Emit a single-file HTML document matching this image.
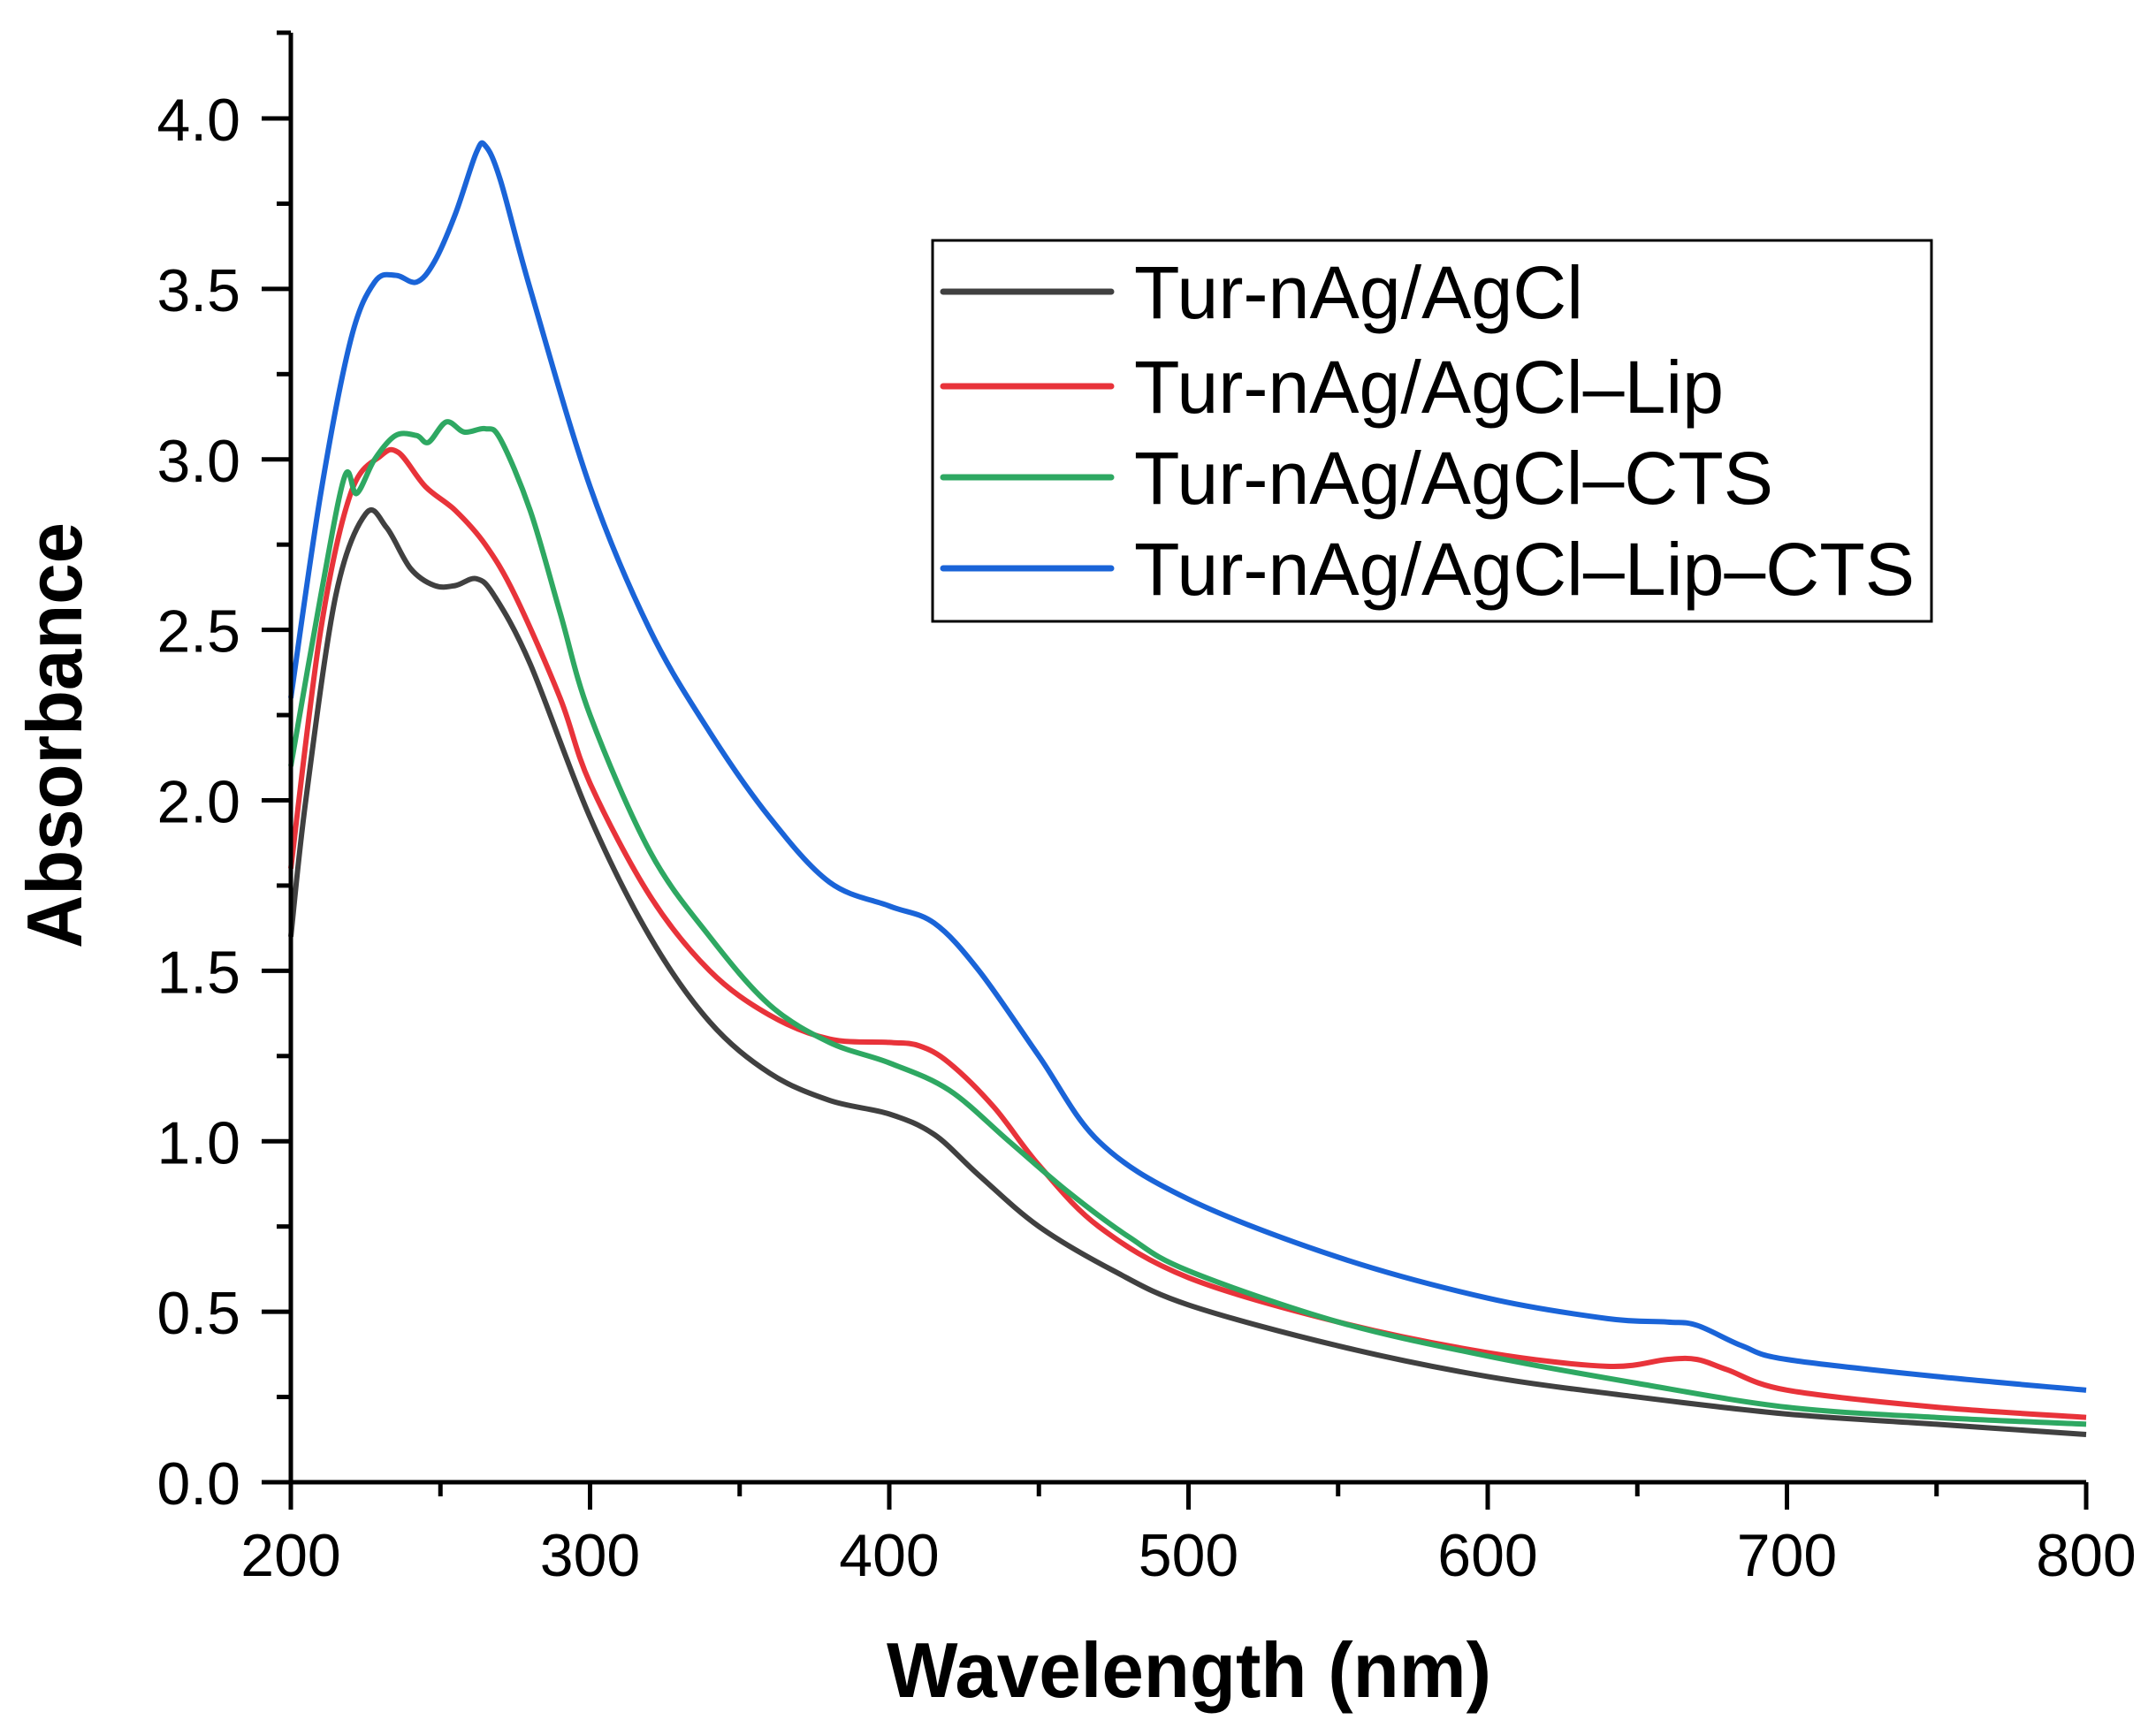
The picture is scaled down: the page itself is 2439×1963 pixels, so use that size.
<!DOCTYPE html>
<html><head><meta charset="utf-8"><style>html,body{margin:0;padding:0;background:#fff}svg{display:block}</style></head>
<body>
<svg id="s" width="2439" height="1963" xmlns="http://www.w3.org/2000/svg" font-family="Liberation Sans, Arial, sans-serif">
<g id="g"></g>
<rect x="1055" y="272" width="1130" height="431" fill="none" stroke="#000" stroke-width="3"/>
<line x1="1067" y1="330" x2="1257" y2="330" stroke="#404040" stroke-width="7" stroke-linecap="round"/>
<line x1="1067" y1="437" x2="1257" y2="437" stroke="#e8333a" stroke-width="7" stroke-linecap="round"/>
<line x1="1067" y1="540" x2="1257" y2="540" stroke="#2ea862" stroke-width="7" stroke-linecap="round"/>
<line x1="1067" y1="643" x2="1257" y2="643" stroke="#1a64d8" stroke-width="7" stroke-linecap="round"/>
<g font-size="84" fill="#000">
<text x="1283" y="360" textLength="508" lengthAdjust="spacingAndGlyphs">Tur-nAg/AgCl</text>
<text x="1283" y="467" textLength="667" lengthAdjust="spacingAndGlyphs">Tur-nAg/AgCl–Lip</text>
<text x="1283" y="570" textLength="723" lengthAdjust="spacingAndGlyphs">Tur-nAg/AgCl–CTS</text>
<text x="1283" y="673" textLength="883" lengthAdjust="spacingAndGlyphs">Tur-nAg/AgCl–Lip–CTS</text>
</g>
<text x="1345" y="1920" font-size="88" font-weight="bold" text-anchor="middle" textLength="684" lengthAdjust="spacingAndGlyphs">Wavelength (nm)</text>
<text transform="translate(92,832) rotate(-90)" font-size="88" font-weight="bold" text-anchor="middle" textLength="482" lengthAdjust="spacingAndGlyphs">Absorbance</text>
</svg>
<script>
var X=w=>329+(w-200)*3.385, Y=a=>1677-a*385.75;
var g=document.getElementById('g'),h='';
var data={
'#404040':[[200,1.6],[205,2.0],[215,2.6],[225,2.84],[232,2.8],[240,2.68],[248,2.63],[255,2.63],[262,2.65],[268,2.6],[280,2.4],[300,1.95],[320,1.6],[340,1.35],[360,1.2],[380,1.12],[400,1.08],[415,1.02],[430,0.9],[450,0.75],[475,0.62],[500,0.52],[550,0.4],[600,0.31],[650,0.25],[700,0.2],[750,0.17],[800,0.14]],
'#e8333a':[[200,1.8],[210,2.5],[220,2.9],[230,3.01],[236,3.02],[245,2.92],[255,2.85],[265,2.75],[275,2.6],[290,2.3],[300,2.05],[320,1.72],[340,1.5],[360,1.37],[380,1.3],[400,1.29],[410,1.28],[420,1.23],[435,1.1],[450,0.93],[470,0.75],[500,0.6],[550,0.47],[600,0.38],[640,0.34],[660,0.36],[670,0.36],[680,0.33],[700,0.27],[750,0.22],[800,0.19]],
'#2ea862':[[200,2.1],[210,2.6],[218,2.95],[222,2.9],[228,3.0],[235,3.07],[242,3.07],[246,3.05],[252,3.11],[258,3.08],[265,3.09],[270,3.06],[280,2.85],[290,2.55],[300,2.25],[320,1.85],[340,1.6],[360,1.4],[380,1.29],[400,1.23],[420,1.15],[440,1.0],[460,0.85],[480,0.72],[500,0.62],[550,0.47],[600,0.37],[650,0.29],[700,0.22],[750,0.19],[800,0.17]],
'#1a64d8':[[200,2.3],[210,2.9],[220,3.35],[228,3.52],[235,3.54],[242,3.52],[248,3.58],[255,3.72],[262,3.9],[265,3.92],[270,3.82],[280,3.5],[300,2.92],[320,2.5],[340,2.2],[360,1.95],[380,1.76],[400,1.69],[415,1.64],[430,1.5],[450,1.25],[470,1.0],[500,0.83],[550,0.66],[600,0.54],[640,0.48],[660,0.47],[670,0.46],[685,0.4],[700,0.36],[750,0.31],[800,0.27]]};
for(var c in data){var p=data[c].map(d=>[X(d[0]),Y(d[1])]);var s='M'+p[0][0]+','+p[0][1];
for(var i=0;i<p.length-1;i++){var p0=p[i-1]||p[i],p1=p[i],p2=p[i+1],p3=p[i+2]||p2;
s+=' C'+(p1[0]+(p2[0]-p0[0])/6)+','+(p1[1]+(p2[1]-p0[1])/6)+' '+(p2[0]-(p3[0]-p1[0])/6)+','+(p2[1]-(p3[1]-p1[1])/6)+' '+p2[0]+','+p2[1];}
h+='<path d="'+s+'" fill="none" stroke="'+c+'" stroke-width="6" stroke-linejoin="round"/>';}
h+='<path d="M329,37 L329,1677 L2360,1677" fill="none" stroke="#000" stroke-width="5"/><line x1="313" y1="37" x2="329" y2="37" stroke="#000" stroke-width="5"/>';
for(var w=200;w<=800;w+=50){var x=X(w),maj=w%100==0;h+='<line x1="'+x+'" y1="1677" x2="'+x+'" y2="'+(1677+(maj?31:16))+'" stroke="#000" stroke-width="5"/>';
if(maj)h+='<text x="'+x+'" y="1783" font-size="68" text-anchor="middle">'+w+'</text>';}
for(var k=0;k<=16;k++){var a=k*0.25,y=Y(a),maj=k%2==0;h+='<line x1="'+(329-(maj?33:16))+'" y1="'+y+'" x2="329" y2="'+y+'" stroke="#000" stroke-width="5"/>';
if(maj)h+='<text x="272" y="'+(y+25)+'" font-size="68" text-anchor="end">'+a.toFixed(1)+'</text>';}
g.innerHTML=h;
</script>
</body></html>
